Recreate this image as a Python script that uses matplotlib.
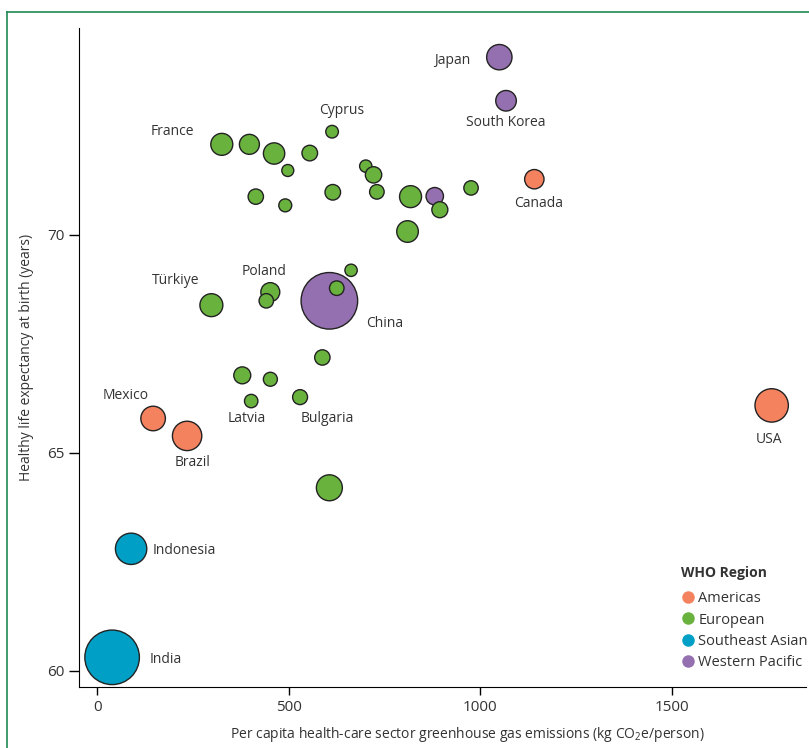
import matplotlib
matplotlib.use("Agg")
import matplotlib.pyplot as plt
from matplotlib.lines import Line2D

plt.rcParams['font.family'] = ['Open Sans', 'DejaVu Sans']
plt.rcParams['mathtext.fontset'] = 'custom'
plt.rcParams['mathtext.rm'] = 'Open Sans'

# country data: emissions (kg CO2e/person), healthy life expectancy (years), bubble weight
americas_x = [145.5, 234.3, 1141.3, 1761.3]
americas_y = [65.79, 65.39, 71.28, 66.09]
americas_w = [151, 216, 94, 279]

seasia_x = [88, 38.4]
seasia_y = [62.80, 60.31]
seasia_w = [246, 745]

wpac_x = [1049.9, 1067.4, 605.9, 881.2]
wpac_y = [74.08, 73.08, 68.49, 70.89]
wpac_w = [161, 106, 801, 76]

europe_x = [324.9, 397, 461.5, 554.7, 497.3, 613, 701, 721.3, 413.7, 490.7,
            614.8, 730, 818, 894.5, 976, 810.1, 297.7, 451.6, 441.1, 625.2,
            662.6, 378.4, 451.8, 401.7, 529.4, 587.6, 605.9]
europe_y = [72.08, 72.08, 71.87, 71.88, 71.48, 72.37, 71.58, 71.38, 70.88, 70.68,
            70.98, 70.99, 70.88, 70.58, 71.08, 70.08, 68.39, 68.69, 68.49, 68.78,
            69.19, 66.78, 66.69, 66.19, 66.28, 67.19, 64.20]
europe_w = [121, 100, 114, 61, 36, 40, 38, 67, 59, 42,
            61, 53, 121, 64, 52, 117, 132, 90, 52, 53,
            38, 72, 49, 45, 56, 59, 169]

# labels: (name, x, y, offset px, ha)
labels = [
    ("Japan", 1049.9, 74.08, (-29, -3), "right"),
    ("South Korea", 1067.4, 73.08, (0, -22), "center"),
    ("Canada", 1141.3, 71.28, (4, -24), "center"),
    ("France", 324.9, 72.08, (-49, 13), "center"),
    ("Cyprus", 613, 72.37, (10, 21), "center"),
    ("Türkiye", 297.7, 68.39, (-36, 25), "center"),
    ("Poland", 451.6, 68.69, (-6, 21), "center"),
    ("China", 605.9, 68.49, (37, -23), "left"),
    ("Mexico", 145.5, 65.79, (-27, 23), "center"),
    ("Brazil", 234.3, 65.39, (5, -27), "center"),
    ("Latvia", 401.7, 66.19, (-4, -17), "center"),
    ("Bulgaria", 529.4, 66.28, (27, -21), "center"),
    ("USA", 1761.3, 66.09, (-3, -34), "center"),
    ("Indonesia", 88, 62.80, (22, -2), "left"),
    ("India", 38.4, 60.31, (38, -2), "left"),
]

regions = ["Americas", "European", "Southeast Asian", "Western Pacific"]
colors = ["#F5825F", "#6AB23E", "#00A0C6", "#9570B0"]

fig = plt.figure(figsize=(8.09, 7.48), dpi=100)
ax = fig.add_axes([0.0977, 0.0816, 0.8986, 0.881])

def sz(w):
    return [2.07 * v for v in w]

# draw big bubbles first so small ones sit on top
ax.scatter(seasia_x, seasia_y, s=sz(seasia_w), c=colors[2], edgecolors="#222222", linewidths=1, zorder=2)
ax.scatter(wpac_x, wpac_y, s=sz(wpac_w), c=colors[3], edgecolors="#222222", linewidths=1, zorder=2)
ax.scatter(americas_x, americas_y, s=sz(americas_w), c=colors[0], edgecolors="#222222", linewidths=1, zorder=2)
ax.scatter(europe_x, europe_y, s=sz(europe_w), c=colors[1], edgecolors="#222222", linewidths=1, zorder=3)

for name, x, y, off, ha in labels:
    ax.annotate(name, (x, y), xytext=(off[0] * 0.72, off[1] * 0.72), textcoords="offset points",
                ha=ha, va="center", fontsize=10, color="#333333")

ax.set_xlim(-48, 1851)
ax.set_ylim(59.63, 74.75)
ax.set_xticks([0, 500, 1000, 1500])
ax.set_yticks([60, 65, 70])
ax.spines["top"].set_visible(False)
ax.spines["right"].set_visible(False)
ax.tick_params(axis="both", labelsize=11, labelcolor="#333333", width=1, length=6)
ax.tick_params(axis="y", length=7)
ax.set_xlabel("Per capita health-care sector greenhouse gas emissions (kg CO$_2$e/person)",
              fontsize=10, color="#333333")
ax.xaxis.set_label_coords(0.534, -0.058)
ax.set_ylabel("Healthy life expectancy at birth (years)", fontsize=10, color="#333333")
ax.yaxis.set_label_coords(-0.062, 0.5)

ax.text(0.828, 0.173, "WHO Region", transform=ax.transAxes, fontsize=10, fontweight="bold",
        color="#333333", ha="left", va="center")
handles = [Line2D([], [], marker="o", linestyle="", markersize=9, markerfacecolor=c,
                  markeredgecolor="none") for c in colors]
leg = ax.legend(handles, regions, loc="upper left", bbox_to_anchor=(0.828, 0.145),
                frameon=False, fontsize=10.5, handletextpad=0.3, labelspacing=0.42,
                borderpad=0, borderaxespad=0, handlelength=0.9)
for t in leg.get_texts():
    t.set_color("#333333")

# green frame around the figure
fig.add_artist(Line2D([7 / 809, 7 / 809], [0, 1 - 12 / 748], color="#1E8A55", lw=1.2))
fig.add_artist(Line2D([7 / 809, 1], [1 - 12 / 748, 1 - 12 / 748], color="#1E8A55", lw=1.2))

fig.savefig("out.png", dpi=100)
